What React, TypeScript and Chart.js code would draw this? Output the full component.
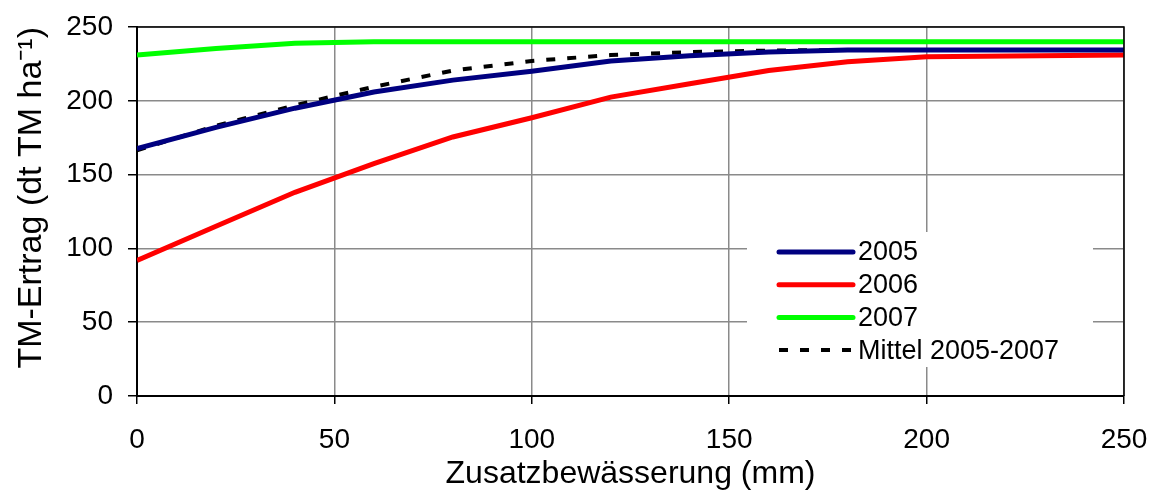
import React, { useEffect, useRef } from "react";
import { Chart, registerables } from "chart.js";

Chart.register(...registerables);

const irrigation = [0, 20, 40, 60, 80, 100, 120, 140, 160, 180, 200, 250];
const yield2005 = [167.6, 182, 195, 206, 214, 220, 227, 230.5, 233, 234.5, 234.5, 234.5];
const yield2006 = [91.9, 115, 138, 157.5, 175.5, 188.5, 202.5, 211.5, 220.5, 226.4, 229.8, 231];
const yield2007 = [231, 235.5, 239, 240, 240, 240, 240, 240, 240, 240, 240, 240];
const yieldMean = [166.5, 183, 197, 209.5, 220.5, 227, 231, 233, 234, 234.5, 234.5, 234.5];

const seriesLabels = ["2005", "2006", "2007", "Mittel 2005-2007"];
const xTitle = "Zusatzbewässerung (mm)";
const yTitle = "TM-Ertrag (dt TM ha⁻¹)";

const FONT = "'Liberation Sans', Arial, Helvetica, sans-serif";

const toPts = (ys: number[]) => irrigation.map((x, i) => ({ x, y: ys[i] }));

const frameAndLegend = {
  id: "frameAndLegend",
  afterDatasetsDraw(chart: any) {
    const { ctx, chartArea } = chart;
    ctx.save();
    ctx.strokeStyle = "#000";
    ctx.lineWidth = 1.5;
    ctx.beginPath();
    ctx.moveTo(chartArea.left, chartArea.top);
    ctx.lineTo(chartArea.right, chartArea.top);
    ctx.lineTo(chartArea.right, chartArea.bottom);
    ctx.stroke();

    const bx = chartArea.left + 610;
    const by = chartArea.top + 205;
    ctx.fillStyle = "#fff";
    ctx.fillRect(bx, by, 346, 135);
    const lineX0 = bx + 32;
    const lineX1 = bx + 106;
    const textX = bx + 111;
    const y0 = by + 20;
    const step = 32.7;
    chart.data.datasets.forEach((ds: any, i: number) => {
      const y = y0 + i * step;
      ctx.save();
      ctx.strokeStyle = ds.borderColor;
      ctx.lineWidth = ds.borderWidth;
      ctx.lineCap = ds.borderDash && ds.borderDash.length ? "butt" : "round";
      ctx.setLineDash(ds.borderDash || []);
      ctx.beginPath();
      ctx.moveTo(lineX0, y);
      ctx.lineTo(lineX1, y);
      ctx.stroke();
      ctx.restore();
      ctx.fillStyle = "#000";
      ctx.font = `27px ${FONT}`;
      ctx.textAlign = "left";
      ctx.textBaseline = "middle";
      ctx.fillText(ds.label, textX, y + 1);
    });
    ctx.restore();
  },
};

export default function App() {
  const ref = useRef<HTMLCanvasElement | null>(null);

  useEffect(() => {
    if (!ref.current) return;
    const chart = new Chart(ref.current, {
      type: "line",
      data: {
        datasets: [
          {
            label: seriesLabels[0],
            data: toPts(yield2005),
            borderColor: "#000080",
            borderWidth: 5,
            pointRadius: 0,
            tension: 0,
            fill: false,
          },
          {
            label: seriesLabels[1],
            data: toPts(yield2006),
            borderColor: "#ff0000",
            borderWidth: 5,
            pointRadius: 0,
            tension: 0,
            fill: false,
          },
          {
            label: seriesLabels[2],
            data: toPts(yield2007),
            borderColor: "#00ff00",
            borderWidth: 5,
            pointRadius: 0,
            tension: 0,
            fill: false,
          },
          {
            label: seriesLabels[3],
            data: toPts(yieldMean),
            borderColor: "#000000",
            borderWidth: 4,
            borderDash: [9, 12],
            pointRadius: 0,
            tension: 0,
            fill: false,
          },
        ],
      },
      options: {
        responsive: false,
        animation: false,
        devicePixelRatio: 1,
        layout: { padding: { top: 27, right: 27, left: 0, bottom: 0 } },
        plugins: {
          legend: { display: false },
          tooltip: { enabled: false },
        },
        scales: {
          x: {
            type: "linear",
            min: 0,
            max: 250,
            afterFit: (s: any) => {
              s.height = 94;
              s.paddingLeft = 0;
              s.paddingRight = 0;
            },
            ticks: {
              stepSize: 50,
              color: "#000",
              padding: 19,
              maxRotation: 0,
              font: { family: FONT, size: 28 },
            },
            grid: {
              color: "#8a8a8a",
              lineWidth: 1.5,
              tickColor: "#000",
              tickLength: 8,
            },
            border: { color: "#000", width: 2 },
            title: {
              display: true,
              text: xTitle,
              color: "#000",
              font: { family: FONT, size: 32, lineHeight: 1.0 },
              padding: { top: 0, bottom: 0 },
            },
          },
          y: {
            min: 0,
            max: 250,
            afterFit: (s: any) => {
              s.width = 137;
              s.paddingTop = 0;
              s.paddingBottom = 0;
            },
            ticks: {
              stepSize: 50,
              color: "#000",
              padding: 15,
              font: { family: FONT, size: 28 },
            },
            grid: {
              color: "#8a8a8a",
              lineWidth: 1.5,
              tickColor: "#000",
              tickLength: 9,
            },
            border: { color: "#000", width: 2 },
            title: {
              display: true,
              text: yTitle,
              color: "#000",
              align: "end",
              font: { family: FONT, size: 34 },
              padding: { top: 11, bottom: 0 },
            },
          },
        },
      },
      plugins: [frameAndLegend],
    });
    return () => chart.destroy();
  }, []);

  return (
    <div style={{ position: "fixed", left: 0, top: 0, width: 1151, height: 490, background: "#fff" }}>
      <canvas ref={ref} width={1151} height={490} style={{ width: 1151, height: 490, display: "block" }} />
    </div>
  );
}
